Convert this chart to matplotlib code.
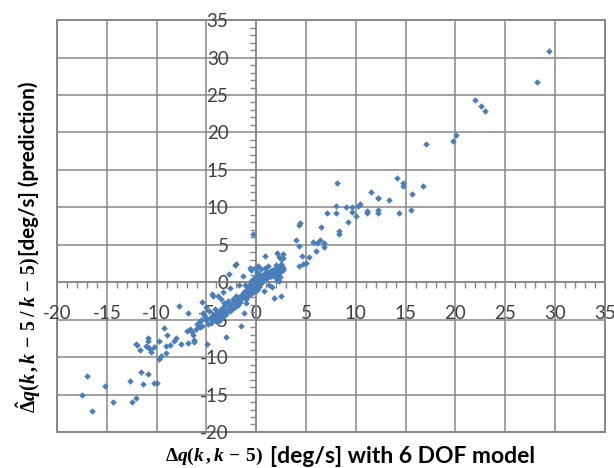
import matplotlib
matplotlib.use("Agg")
import matplotlib.pyplot as plt
from matplotlib.patches import Rectangle
from matplotlib.ticker import MultipleLocator, FuncFormatter

# 6 DOF model response (x) vs. predicted response (y), deg/s
x_model = [
    29.4, 28.2, 22.0, 22.6, 23.0, 20.1, 19.8, 17.0, 8.1, 14.1, 14.7, 14.7, 16.7, 15.6,
    11.5, 12.2, 12.2, 13.3, 8.0, 9.0, 9.6, 10.4, 10.2, 7.1, 8.0, 9.6, 10.0, 11.1, 11.1,
    12.2, 12.2, 14.3, 15.5, 9.2, 8.3, 8.3, 6.5, 4.4, 4.3, 4.0, 4.3, 5.7, 6.1, 6.4, 6.8,
    6.8, 6.0, 4.6, 5.3, 5.0, 4.7, 4.3, -0.3, -2.0, 0.9,
    -17.0, -17.45, -16.5, -15.2, -14.4, -12.7, -12.5, -12.1, -11.6, -11.4, -10.9, -10.3,
    -10.0, -12.1, -11.95, -11.7, -11.1, -10.9, -10.9, -10.9, -10.7, -10.6, -10.3, -9.8,
    -9.8, -9.6, -9.3, -9.1, -9.0, -9.05, -8.7, -8.3, -8.1, -7.8, -7.6, -7.0, -6.9, -6.9,
    -6.7, -6.4, -6.3, -6.3, -6.5, -6.1, -6.0, -5.7, -5.5, -5.4, -5.3, -5.1, -5.0, -4.9,
    -4.4, -4.3, -4.0, -3.8, -3.5, -3.3, -3.2, -3.0, -2.75, -2.6, -2.1, -2.0, -1.7, -1.5,
    -1.3, -1.1, -1.0, -1.2,
    -1.5, -1.4, -1.3, -1.2, -1.1, -1.0, -1.0, -0.9, -0.9, -0.8, -0.8, -0.7, -0.7, -0.6,
    -0.6, -0.5, -0.5, -0.5, -0.4, -0.4, -0.4, -0.3, -0.3, -0.3, -0.2, -0.2, -0.2, -0.1,
    -0.1, -0.1, 0.0, 0.0, 0.0, 0.1, 0.1, 0.1, 0.2, 0.2, 0.2, 0.3, 0.3, 0.3, 0.4, 0.4,
    0.4, 0.5, 0.5, 0.6, 0.6, 0.7, 0.7, 0.8, 0.8, 0.9, 0.9, 1.0, 1.0, 1.1, 1.2, 1.2, 1.3,
    1.4, 1.4, 1.5, 1.6, 1.6, 1.7, 1.8, 1.8, 1.9, 2.0, 2.1, 2.2, 2.3, 2.4, 2.5, 2.6, 2.7,
    0.1, -0.16, -0.5, -0.67, 0.18, 0.5, 0.85, 1.18, 1.0, 1.35, 1.6, 1.85, 2.0, 2.35,
    2.7, 2.5, 2.45, 2.7, 2.3, 2.1, 2.7,
    1.18, 1.5, 1.85, 2.2, 2.35, 2.1, 2.35, 2.25, 1.55, 1.3, 1.75, 2.45, 0.75,
    -1.6, -1.7, -1.8, -1.9, -2.0, -2.1, -2.2, -2.3, -2.4, -2.5, -2.6, -2.7, -2.8, -2.9,
    -3.0, -3.1, -3.2, -3.3, -3.4, -3.5, -3.6, -3.7, -3.8, -3.9, -4.0, -4.1, -4.2, -4.3,
    -4.5, -4.6, -4.7, -4.8, -5.0, -5.2, -5.4, -5.6,
]
y_pred = [
    30.9, 26.7, 24.3, 23.5, 22.9, 19.6, 18.8, 18.5, 13.2, 13.9, 13.2, 12.8, 12.8, 11.8,
    12.0, 11.3, 11.2, 11.0, 10.2, 10.0, 10.1, 10.4, 10.2, 9.3, 9.2, 9.4, 8.8, 9.5, 9.2,
    9.7, 9.3, 9.3, 9.7, 8.1, 6.8, 6.5, 7.4, 7.9, 7.6, 5.6, 4.9, 5.4, 5.3, 5.6, 5.3,
    4.7, 4.2, 3.5, 3.3, 2.6, 2.4, 2.1, 6.4, 2.4, 3.5,
    -12.5, -15.1, -17.2, -13.9, -16.0, -13.2, -16.0, -15.4, -12.0, -13.6, -12.2, -13.4,
    -13.5, -8.3, -8.4, -9.1, -8.5, -7.5, -7.9, -8.7, -8.95, -9.3, -8.7, -7.9,
    -10.3, -9.9, -6.1, -9.5, -7.1, -8.5, -8.4, -7.8, -7.4, -3.2, -8.3, -6.5, -4.1, -8.1,
    -6.2, -7.0, -7.7, -7.97, -6.6, -6.3, -5.6, -6.0, -5.1, -2.7, -4.1, -4.6, -3.3, -8.3,
    -1.6, -1.9, -4.6, -1.9, -2.2, -1.3, -2.8, -7.3, 1.1, -0.75, 2.3, -2.95, -0.4, -5.8,
    0.8, -0.4, -2.8, -4.1,
    -1.8, -2.1, -1.5, -1.9, -1.2, -1.6, -2.3, -1.0, -1.4, -1.8, -0.7, -1.2, -0.4, -0.9,
    -1.6, -0.5, -1.1, 0.1, -0.8, -0.2, -1.4, -0.6, 0.3, -1.0, -0.3, -0.8, 0.5, -0.5,
    -1.2, 0.0, -0.2, -0.7, 0.4, -0.4, 0.1, -1.0, 0.3, -0.2, 0.8, -0.6, 0.0, 0.5, 0.2,
    -0.3, 0.9, 0.4, -0.1, 0.7, 0.1, 0.5, 1.0, 0.3, 0.8, 0.6, 1.2, 0.9, 0.4, 1.1, 0.7,
    1.3, 1.0, 1.4, 0.8, 1.2, 1.0, 1.6, 1.3, 1.5, 1.1, 1.8, 1.4, 1.7, 1.2, 1.9, 1.5, 1.8,
    2.1, 1.6,
    1.4, 1.85, 1.6, 1.85, 2.1, 1.7, 1.85, 2.2, 1.3, 1.4, 1.55, 1.7, 2.3, 2.1,
    1.85, 2.45, 3.05, 3.2, 3.4, 3.9, 3.8,
    0.97, 0.85, 0.7, 0.97, 0.7, 0.3, 1.4, 0.1, -0.7, -0.4, -2.05, -1.85, -1.2,
    -2.6, -2.0, -3.1, -2.4, -1.9, -3.3, -2.7, -2.2, -3.6, -2.9, -3.9, -3.2, -2.5, -3.7,
    -4.3, -3.0, -3.9, -4.7, -3.4, -4.2, -5.0, -3.8, -4.6, -5.3, -4.1, -3.6, -5.0, -4.4,
    -5.4, -4.8, -3.9, -5.6, -5.0, -4.4, -5.8, -5.2,
]

x_limits = (-20, 35)
y_limits = (-20, 35)
major_step = 5
minor_step = 1

x_math = r"$\mathit{\Delta q}(\mathit{k}\,,\mathit{k}\,-\,5)$"
x_words = "[deg/s] with 6 DOF model"
y_math = r"$\hat{\mathit{\Delta}}\mathit{q}(\mathit{k}\,,\mathit{k}\,-\,5\;/\;\mathit{k}\,-\,5)$"
y_words = "[deg/s] (prediction)"

grid_gray = "#878787"
point_blue = "#4A7EBB"
label_gray = "#404040"

plt.rcParams["mathtext.fontset"] = "custom"
plt.rcParams["mathtext.rm"] = "Liberation Serif:bold"
plt.rcParams["mathtext.it"] = "Liberation Serif:italic:bold"
plt.rcParams["mathtext.bf"] = "Liberation Serif:italic:bold"

fig = plt.figure(figsize=(6.14, 4.68), dpi=100)
ax = fig.add_axes([0.093, 0.077, 0.892, 0.880])

ax.set_xlim(*x_limits)
ax.set_ylim(*y_limits)
ax.xaxis.set_major_locator(MultipleLocator(major_step))
ax.yaxis.set_major_locator(MultipleLocator(major_step))
ax.xaxis.set_minor_locator(MultipleLocator(minor_step))
ax.yaxis.set_minor_locator(MultipleLocator(minor_step))

ax.grid(True, which="major", color=grid_gray, linewidth=1.1)
ax.set_axisbelow(True)

# axes cross at the origin
for side in ("left", "bottom"):
    ax.spines[side].set_position(("data", 0))
    ax.spines[side].set_color(grid_gray)
    ax.spines[side].set_linewidth(1.1)
for side in ("top", "right"):
    ax.spines[side].set_visible(False)

# plot-area border
ax.add_patch(Rectangle((0, 0), 1, 1, transform=ax.transAxes, fill=False,
                       edgecolor=grid_gray, linewidth=1.4, clip_on=False, zorder=0.5))

fmt = FuncFormatter(lambda v, p: f"{v:g}")
ax.xaxis.set_major_formatter(fmt)
ax.yaxis.set_major_formatter(fmt)
ax.tick_params(which="major", length=0, labelsize=13.5, labelcolor=label_gray)
ax.tick_params(axis="x", which="major", pad=16.5)
ax.tick_params(axis="y", which="major", pad=20)
ax.tick_params(which="minor", length=4, width=1.0, color=grid_gray, direction="out")
for lab in ax.get_xticklabels() + ax.get_yticklabels():
    lab.set_fontfamily("Lato")

ax.scatter(x_model, y_pred, s=11, marker="D", color=point_blue, linewidths=0, zorder=3)

# x-axis title: math part followed by the words
xm = fig.text(0.269, 0.024, x_math, ha="left", va="center", fontsize=14,
              fontweight="bold", color="black")
ax.annotate(x_words, xy=(1, 0.5), xycoords=xm, xytext=(5, 0),
            textcoords="offset points", ha="left", va="center",
            fontsize=16.5, fontweight="bold", family="Lato", color="black",
            annotation_clip=False)

# y-axis title, rotated, reading bottom to top
ym = fig.text(0.046, 0.118, y_math, ha="center", va="bottom", rotation=90,
              fontsize=14.3, fontweight="bold", color="black")
ax.annotate(y_words, xy=(0.5, 1), xycoords=ym, xytext=(0, 0),
            textcoords="offset points", ha="center", va="bottom", rotation=90,
            fontsize=14.8, fontweight="bold", family="Lato", color="black",
            annotation_clip=False)

fig.savefig("out.png", dpi=100)
